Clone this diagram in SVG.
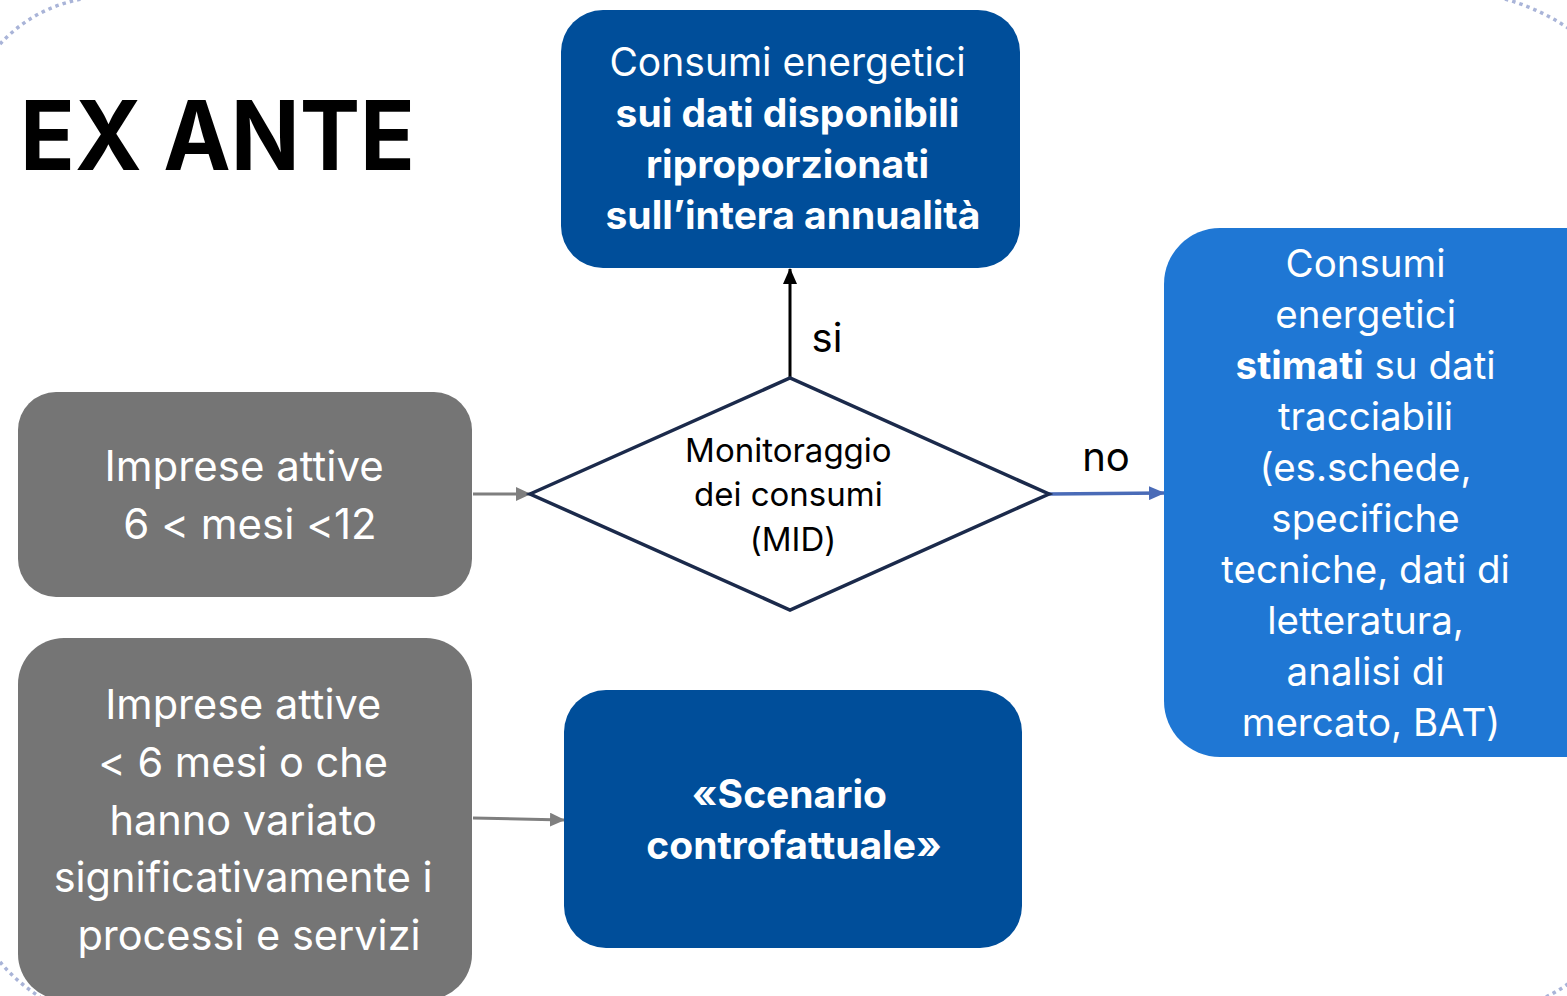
<svg xmlns="http://www.w3.org/2000/svg" width="1567" height="996" viewBox="0 0 1567 996">
  <defs>
    <style>
      .t { font-family: Inter, "Liberation Sans", sans-serif; text-anchor: middle; font-variant-ligatures: none; }
      .w { fill: #ffffff; }
      .b { font-weight: bold; }
      .deco { fill: none; stroke: #A9B4D8; stroke-width: 3.5; stroke-dasharray: 3.5 4; }
      .gray { fill: #757575; }
      .navy { fill: #004E9A; }
      .sky { fill: #1F77D4; }
    </style>
    <marker id="ahGray" markerWidth="15" markerHeight="14" refX="14" refY="7" orient="auto" markerUnits="userSpaceOnUse" viewBox="0 0 15 14">
      <path d="M0,0 L15,7 L0,14 z" fill="#7F7F7F"/>
    </marker>
    <marker id="ahBlack" markerWidth="16" markerHeight="14" refX="15" refY="7" orient="auto" markerUnits="userSpaceOnUse" viewBox="0 0 16 14">
      <path d="M0,0 L16,7 L0,14 z" fill="#000000"/>
    </marker>
    <marker id="ahBlue" markerWidth="16" markerHeight="14" refX="15" refY="7" orient="auto" markerUnits="userSpaceOnUse" viewBox="0 0 16 14">
      <path d="M0,0 L16,7 L0,14 z" fill="#4A6BB7"/>
    </marker>
  </defs>

  <rect width="1567" height="996" fill="#ffffff"/>

  <!-- decorative dotted corner arcs -->
  <g id="decor">
    <path class="deco" d="M0,44 A146,146 0 0 1 82,-1"/>
    <path class="deco" d="M1505,-1 A220,220 0 0 1 1568,28"/>
    <path class="deco" d="M0,962 A178,178 0 0 0 40,997"/>
    <path class="deco" d="M1546,997 A175,175 0 0 0 1568,984"/>
  </g>

  <!-- heading -->
  <text id="title" x="20" y="170" font-family="Inter, 'Liberation Sans', sans-serif" font-weight="bold" font-size="96" textLength="395" lengthAdjust="spacingAndGlyphs" fill="#000000">EX ANTE</text>

  <!-- connectors -->
  <g id="connectors" fill="none">
    <line x1="473" y1="494" x2="530" y2="494" stroke="#7F7F7F" stroke-width="3" marker-end="url(#ahGray)"/>
    <line x1="790" y1="378" x2="790" y2="269" stroke="#000000" stroke-width="3" marker-end="url(#ahBlack)"/>
    <line x1="1049" y1="494" x2="1164" y2="493" stroke="#4A6BB7" stroke-width="3.5" marker-end="url(#ahBlue)"/>
    <line x1="473" y1="818" x2="564" y2="820" stroke="#7F7F7F" stroke-width="3" marker-end="url(#ahGray)"/>
    <text class="t" x="827" y="352" font-size="40" fill="#000000">si</text>
    <text class="t" x="1106" y="471" font-size="40" fill="#000000">no</text>
  </g>

  <!-- top result: measured data -->
  <g id="node-measured">
    <rect class="navy" x="561" y="10" width="459" height="258" rx="42"/>
    <text class="t w" font-size="39">
      <tspan x="793" y="76">Consumi energetici</tspan>
      <tspan x="793" y="127" class="b">sui dati disponibili</tspan>
      <tspan x="793" y="178" class="b">riproporzionati</tspan>
      <tspan x="793" y="229" class="b">sull’intera annualità</tspan>
    </text>
  </g>

  <!-- companies active 6-12 months -->
  <g id="node-active-6-12">
    <rect class="gray" x="18" y="392" width="454" height="205" rx="38"/>
    <text class="t w" font-size="42">
      <tspan x="250" y="481">Imprese attive</tspan>
      <tspan x="250" y="539">6 &lt; mesi &lt;12</tspan>
    </text>
  </g>

  <!-- decision -->
  <g id="node-decision">
    <polygon points="530,494 790,378 1049,494 790,610" fill="#ffffff" stroke="#1B2A4B" stroke-width="3.5" stroke-linejoin="miter"/>
    <text class="t" font-size="33" fill="#000000">
      <tspan x="793" y="462">Monitoraggio</tspan>
      <tspan x="793" y="506">dei consumi</tspan>
      <tspan x="793" y="551">(MID)</tspan>
    </text>
  </g>

  <!-- right result: estimated data -->
  <g id="node-estimated">
    <rect class="sky" x="1164" y="228" width="460" height="529" rx="56"/>
    <text class="t w" font-size="38.5">
      <tspan x="1371" y="277">Consumi</tspan>
      <tspan x="1371" y="328">energetici</tspan>
      <tspan x="1371" y="379"><tspan class="b">stimati</tspan> su dati</tspan>
      <tspan x="1371" y="430">tracciabili</tspan>
      <tspan x="1371" y="481">(es.schede,</tspan>
      <tspan x="1371" y="532">specifiche</tspan>
      <tspan x="1371" y="583">tecniche, dati di</tspan>
      <tspan x="1371" y="634">letteratura,</tspan>
      <tspan x="1371" y="685">analisi di</tspan>
      <tspan x="1371" y="736">mercato, BAT)</tspan>
    </text>
  </g>

  <!-- companies active less than 6 months -->
  <g id="node-active-lt6">
    <rect class="gray" x="18" y="638" width="454" height="362" rx="46"/>
    <text class="t w" font-size="41.5">
      <tspan x="249" y="719">Imprese attive</tspan>
      <tspan x="249" y="777">&lt; 6 mesi o che</tspan>
      <tspan x="249" y="835">hanno variato</tspan>
      <tspan x="249" y="892">significativamente i</tspan>
      <tspan x="249" y="950">processi e servizi</tspan>
    </text>
  </g>

  <!-- counterfactual scenario -->
  <g id="node-counterfactual">
    <rect class="navy" x="564" y="690" width="458" height="258" rx="42"/>
    <text class="t w b" font-size="39">
      <tspan x="794" y="808">«Scenario</tspan>
      <tspan x="794" y="859">controfattuale»</tspan>
    </text>
  </g>
</svg>
